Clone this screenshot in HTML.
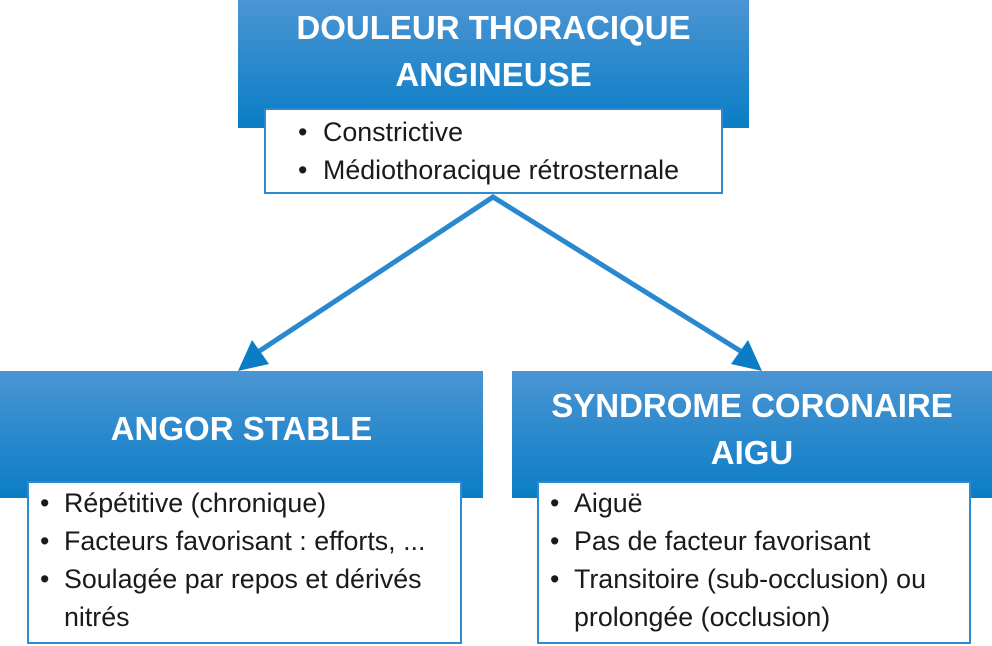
<!DOCTYPE html>
<html><head><meta charset="utf-8"><style>
body{margin:0;width:992px;height:646px;position:relative;background:#fff;font-family:"Liberation Sans",sans-serif;overflow:hidden}
.hd{position:absolute;background:linear-gradient(#4b95d3,#0a7dc5);color:#fff;font-weight:bold;font-size:33px;text-align:center;line-height:47px}
.bx{position:absolute;background:#fff;border:2px solid #2f8bd0;box-sizing:border-box;font-size:26.8px;color:#1a1a1a;line-height:38px;white-space:nowrap}
.bx div{position:relative;padding-left:35px}
.bx div span{position:absolute;left:11px}
</style></head><body>
<div class="hd" style="left:238px;top:0;width:511px;height:128px;padding-top:4px;box-sizing:border-box">DOULEUR THORACIQUE<br>ANGINEUSE</div>
<div class="bx" style="left:264px;top:108px;width:459px;height:86px;padding-top:3px"><div style="padding-left:57px"><span style="left:32px">•</span>Constrictive</div><div style="padding-left:57px"><span style="left:32px">•</span>Médiothoracique rétrosternale</div></div>
<div class="hd" style="left:0;top:371px;width:483px;height:127px;line-height:116px">ANGOR STABLE</div>
<div class="hd" style="left:512px;top:371px;width:480px;height:127px;padding-top:11px;box-sizing:border-box">SYNDROME CORONAIRE<br>AIGU</div>
<div class="bx" style="left:27px;top:481px;width:435px;height:163px;padding-top:1px"><div><span>•</span>Répétitive (chronique)</div><div><span>•</span>Facteurs favorisant : efforts, ...</div><div><span>•</span>Soulagée par repos et dérivés<br>nitrés</div></div>
<div class="bx" style="left:537px;top:481px;width:434px;height:163px;padding-top:1px"><div><span>•</span>Aiguë</div><div><span>•</span>Pas de facteur favorisant</div><div><span>•</span>Transitoire (sub-occlusion) ou<br>prolongée (occlusion)</div></div>
<svg width="992" height="646" style="position:absolute;left:0;top:0">
<g stroke="#2a88cf" stroke-width="5" fill="none"><polyline points="258,352 493,197 742,352"/></g>
<polygon points="238,371 252,340 269,364" fill="#0a7dc5"/>
<polygon points="762,371 731,364 748,340" fill="#0a7dc5"/>
</svg>
</body></html>
